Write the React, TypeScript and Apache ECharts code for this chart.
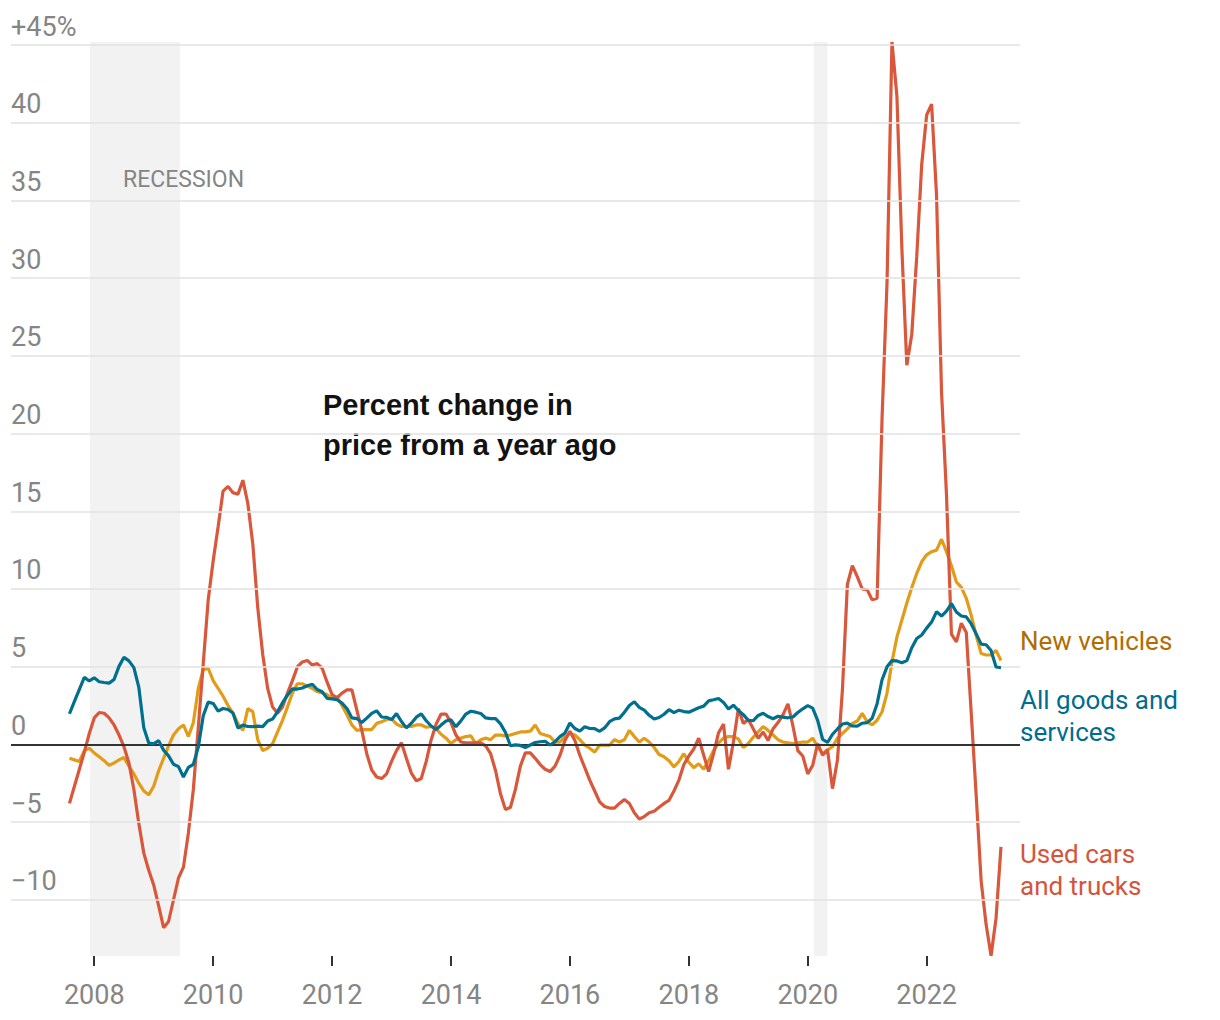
import React, { useEffect, useRef } from "react";
import * as echarts from "echarts";

// Monthly series, August 2007 through April 2023 (year-over-year % change)
const START_YEAR = 2007;
const START_MONTH = 8;

const allGoodsAndServices = [
  1.97, 2.76, 3.54, 4.31, 4.08,
  4.28, 4.03, 3.98, 3.94, 4.18, 5.02, 5.6, 5.37, 4.94, 3.66, 1.07, 0.09,
  0.03, 0.24, -0.38, -0.74, -1.28, -1.43, -2.1, -1.48, -1.29, -0.18, 1.84, 2.72,
  2.63, 2.14, 2.31, 2.24, 2.02, 1.05, 1.24, 1.15, 1.14, 1.17, 1.14, 1.5,
  1.63, 2.11, 2.68, 3.16, 3.57, 3.56, 3.63, 3.77, 3.87, 3.53, 3.39, 2.96,
  2.93, 2.87, 2.65, 2.3, 1.7, 1.66, 1.41, 1.69, 1.99, 2.16, 1.76, 1.74,
  1.59, 1.98, 1.47, 1.06, 1.36, 1.75, 1.96, 1.52, 1.18, 0.96, 1.24, 1.5,
  1.58, 1.13, 1.51, 1.95, 2.13, 2.07, 1.99, 1.7, 1.66, 1.66, 1.32, 0.76,
  -0.09, -0.03, -0.07, -0.2, -0.04, 0.12, 0.17, 0.2, -0.04, 0.17, 0.5, 0.73,
  1.37, 1.02, 0.85, 1.13, 1.02, 1.01, 0.84, 1.06, 1.46, 1.64, 1.69, 2.07,
  2.5, 2.74, 2.38, 2.2, 1.87, 1.63, 1.73, 1.94, 2.23, 2.04, 2.2, 2.11,
  2.07, 2.21, 2.36, 2.46, 2.8, 2.87, 2.95, 2.7, 2.28, 2.52, 2.18, 1.91,
  1.55, 1.52, 1.86, 2.0, 1.79, 1.65, 1.81, 1.75, 1.71, 1.76, 2.05, 2.29,
  2.49, 2.33, 1.54, 0.33, 0.12, 0.65, 0.99, 1.31, 1.37, 1.18, 1.17, 1.36,
  1.4, 1.68, 2.62, 4.16, 4.99, 5.39, 5.37, 5.25, 5.39, 6.22, 6.81, 7.04,
  7.48, 7.87, 8.54, 8.26, 8.58, 9.06, 8.52, 8.26, 8.2, 7.75, 7.11, 6.45,
  6.41, 6.04, 4.98, 4.93,
];

const newVehicles = [
  -0.9, -1.0, -1.1, -0.4, -0.25,
  -0.55, -0.8, -1.05, -1.35, -1.2, -1.0, -0.85, -1.4, -1.9, -2.5, -3.0, -3.25,
  -2.7, -1.7, -0.9, -0.1, 0.6, 1.0, 1.25, 0.5, 1.4, 3.6, 4.8, 4.9,
  4.1, 3.6, 3.1, 2.5, 2.0, 1.35, 0.9, 2.3, 2.1, 0.3, -0.4, -0.25,
  0.05, 0.8, 1.55, 2.4, 3.3, 3.9, 3.9, 3.75, 3.6, 3.4, 3.3, 3.2,
  2.95, 3.05, 2.5, 1.9, 1.25, 0.9, 0.95, 0.95, 0.95, 1.35, 1.45, 1.6,
  1.65, 1.3, 1.15, 1.15, 1.15, 1.25, 1.25, 1.1, 1.15, 1.0, 0.65, 0.4,
  0.05, 0.3, 0.4, 0.5, 0.55, 0.05, 0.3, 0.4, 0.3, 0.6, 0.6, 0.55,
  0.6, 0.7, 0.8, 0.8, 0.85, 1.25, 0.7, 0.6, 0.5, 0.15, 0.15, 0.5,
  0.7, 0.6, 0.3, -0.05, -0.25, -0.5, -0.05, -0.05, -0.05, 0.3, 0.15, 0.3,
  0.9, 0.5, 0.15, 0.4, 0.15, -0.2, -0.65, -0.8, -1.05, -1.45, -1.1, -0.6,
  -1.15, -1.5, -1.25, -1.6, -1.05, -0.4, 0.1, 0.4, 0.5, 0.5, 0.35, -0.2,
  0.05, 0.45, 0.8, 1.15, 0.9, 0.6, 0.3, 0.15, 0.1, 0.05, 0.1, 0.15,
  0.15, 0.4, -0.15, -0.6, -0.35, -0.15, 0.4, 0.7, 1.0, 1.35, 1.5, 2.0,
  1.45, 1.25, 1.55, 2.1, 3.3, 5.3, 6.9, 8.0, 9.1, 10.1, 11.0, 11.75,
  12.2, 12.4, 12.5, 13.2, 12.4, 11.5, 10.45, 10.1, 9.4, 8.3, 7.0, 5.85,
  5.75, 5.75, 6.05, 5.4,
];

const usedCarsAndTrucks = [
  -3.8, -2.7, -1.6, -0.5, 0.7,
  1.7, 2.05, 2.0, 1.7, 1.25, 0.6, -0.15, -1.2, -2.9, -5.1, -7.0, -8.1,
  -9.05, -10.4, -11.8, -11.4, -10.0, -8.6, -7.9, -5.7, -2.9, 1.1, 5.2, 9.3,
  11.8, 14.0, 16.3, 16.6, 16.2, 16.1, 17.0, 15.5, 12.9, 8.8, 5.8, 3.6,
  2.4, 2.0, 2.4, 3.3, 4.1, 5.0, 5.3, 5.4, 5.1, 5.2, 4.9, 4.0,
  3.2, 3.0, 3.3, 3.5, 3.5, 2.2, 0.9, -0.6, -1.65, -2.1, -2.2, -1.9,
  -1.1, -0.4, 0.1, -0.9, -1.85, -2.35, -2.2, -1.1, 0.3, 1.3, 1.95, 1.95,
  1.4, 0.6, 0.15, 0.1, 0.1, 0.1, 0.1, -0.1, -0.6, -1.7, -3.2, -4.2,
  -4.05, -2.9, -1.4, -0.55, -0.55, -0.9, -1.3, -1.6, -1.75, -1.4, -0.7, 0.25,
  0.85, 0.25, -0.7, -1.5, -2.3, -3.0, -3.7, -4.0, -4.1, -4.1, -3.8, -3.55,
  -3.8, -4.4, -4.8, -4.65, -4.4, -4.3, -4.05, -3.8, -3.6, -3.0, -2.3, -1.3,
  -0.75, -0.3, 0.4, -0.7, -1.75, -0.6, 0.75, 1.3, -1.6, 0.15, 2.3, 1.35,
  1.6, 1.0, 0.4, 0.8, 0.25, 1.0, 1.4, 1.9, 2.6, 1.2, -0.4, -0.75,
  -1.9, -1.35, 0.05, -0.7, -0.35, -2.85, -1.0, 3.5, 10.3, 11.5, 10.8, 10.0,
  9.95, 9.3, 9.4, 21.0, 29.7, 45.2, 41.7, 31.9, 24.4, 26.4, 31.4, 37.3,
  40.5, 41.2, 35.3, 22.7, 16.1, 7.1, 6.6, 7.8, 7.2, 2.0, -3.3, -8.8,
  -11.6, -13.6, -11.2, -6.6,
];

const xTickYears = [2008, 2010, 2012, 2014, 2016, 2018, 2020, 2022];
const yGridValues = [-10, -5, 5, 10, 15, 20, 25, 30, 35, 40, 45];
const recessions: [number, number][] = [
  [2007.93, 2009.44],
  [2020.1, 2020.33],
];

const X_MIN = 2006.6;
const X_MAX = 2023.57;
const Y_MIN = -13.62;
const Y_MAX = 45.2;

const FONT = "Roboto, 'Noto Sans', sans-serif";
const TITLE_FONT = "'Liberation Sans', Arial, sans-serif";
const GRAY = "#858585";

const COLORS = {
  used: "#d9573b",
  usedText: "#d4553b",
  newV: "#e29c17",
  newText: "#b06e00",
  all: "#01708f",
  allText: "#006d8f",
};

function toPairs(values: number[]): [number, number][] {
  return values.map((v, i) => [START_YEAR + (START_MONTH - 1 + i) / 12, v]);
}

function yLabel(v: number): string {
  if (v === 45) return "+45%";
  if (v < 0) return "\u2212" + Math.abs(v);
  return String(v);
}

export default function App() {
  const ref = useRef<HTMLDivElement>(null);

  useEffect(() => {
    document.body.style.margin = "0";
    if (!ref.current) return;
    const chart = echarts.init(ref.current, undefined, { renderer: "svg" });

    const labelStyle = {
      show: true,
      position: "insideStartTop" as const,
      color: GRAY,
      fontSize: 27,
      fontFamily: FONT,
      distance: [0, 5],
    };

    const gridLines = yGridValues.map((v) => ({
      yAxis: v,
      lineStyle: { color: "#e2e2e2", width: 1.5, type: "solid" as const },
      label: { ...labelStyle, formatter: yLabel(v) },
    }));
    const zeroLine = {
      yAxis: 0,
      lineStyle: { color: "#333333", width: 1.8, type: "solid" as const },
      label: { ...labelStyle, formatter: "0" },
    };

    const option: any = {
      animation: false,
      grid: { left: 11, top: 42, width: 1009, height: 914, containLabel: false },
      xAxis: {
        type: "value",
        min: X_MIN,
        max: X_MAX,
        axisLine: { show: false, onZero: false },
        splitLine: { show: false },
        axisTick: {
          show: true,
          length: 10,
          lineStyle: { color: "#333", width: 2 },
          customValues: xTickYears,
        },
        axisLabel: {
          show: true,
          customValues: xTickYears,
          formatter: (v: number) => String(v),
          color: GRAY,
          fontSize: 27,
          fontFamily: FONT,
          margin: 25,
        },
      },
      yAxis: {
        type: "value",
        min: Y_MIN,
        max: Y_MAX,
        show: false,
        splitLine: { show: false },
      },
      graphic: [
        {
          type: "text",
          left: 123,
          top: 168,
          style: { text: "RECESSION", fill: GRAY, font: `23px ${FONT}` },
          z: 5,
        },
        {
          type: "text",
          left: 323,
          top: 385,
          style: {
            text: "Percent change in\nprice from a year ago",
            fill: "#121212",
            font: `bold 29px ${TITLE_FONT}`,
            lineHeight: 40,
          },
          z: 5,
        },
        {
          type: "text",
          left: 1020,
          top: 628,
          style: { text: "New vehicles", fill: COLORS.newText, font: `26px ${FONT}` },
        },
        {
          type: "text",
          left: 1020,
          top: 684,
          style: {
            text: "All goods and\nservices",
            fill: COLORS.allText,
            font: `26px ${FONT}`,
            lineHeight: 32,
          },
        },
        {
          type: "text",
          left: 1020,
          top: 838,
          style: {
            text: "Used cars\nand trucks",
            fill: COLORS.usedText,
            font: `26px ${FONT}`,
            lineHeight: 32,
          },
        },
      ],
      series: [
        {
          type: "line",
          data: [[X_MIN, 0]],
          symbol: "none",
          lineStyle: { opacity: 0 },
          silent: true,
          z: 1,
          markArea: {
            silent: true,
            itemStyle: { color: "#f2f2f2" },
            data: recessions.map(([a, b]) => [{ xAxis: a }, { xAxis: b }]),
          },
          markLine: {
            silent: true,
            symbol: ["none", "none"],
            data: [...gridLines, zeroLine],
          },
        },
        {
          name: "New vehicles",
          type: "line",
          data: toPairs(newVehicles),
          symbol: "none",
          lineStyle: { color: COLORS.newV, width: 3.2 },
          z: 3,
        },
        {
          name: "Used cars and trucks",
          type: "line",
          data: toPairs(usedCarsAndTrucks),
          symbol: "none",
          lineStyle: { color: COLORS.used, width: 3.2 },
          z: 4,
        },
        {
          name: "All goods and services",
          type: "line",
          data: toPairs(allGoodsAndServices),
          symbol: "none",
          lineStyle: { color: COLORS.all, width: 3.2 },
          z: 5,
        },
      ],
    };

    chart.setOption(option);
    return () => chart.dispose();
  }, []);

  return <div ref={ref} style={{ width: 1220, height: 1020 }} />;
}
